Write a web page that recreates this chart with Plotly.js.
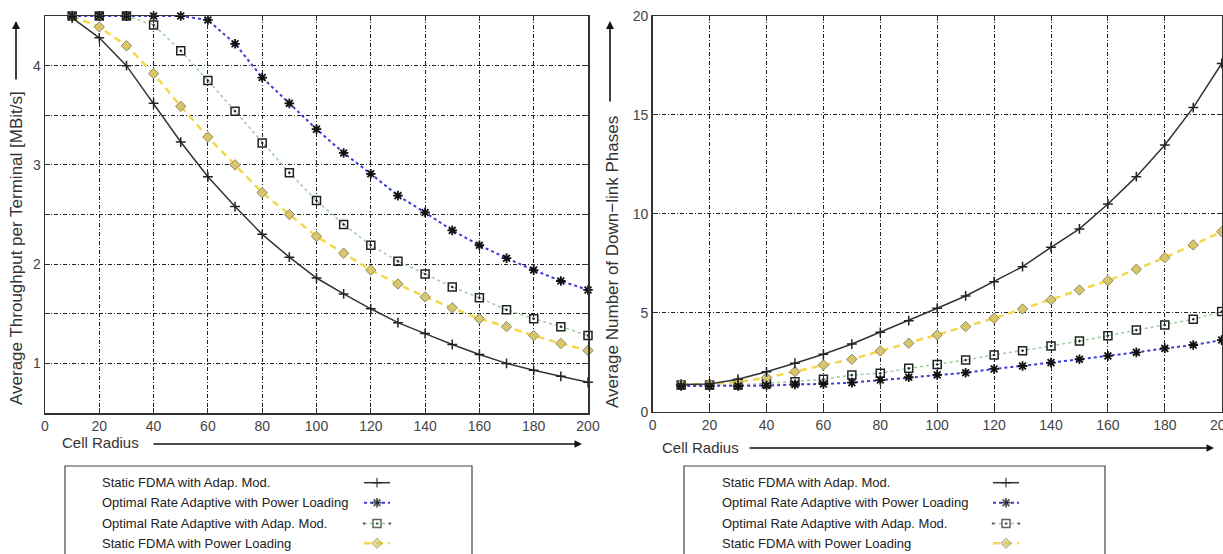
<!DOCTYPE html>
<html><head><meta charset="utf-8">
<script src="https://cdn.plot.ly/plotly-3.0.1.min.js"></script>
<style>html,body{margin:0;padding:0;background:#fff}#plot{width:1223px;height:554px}</style>
</head><body><div id="plot"></div>
<script>
// ---- data ----
const radius = [10,20,30,40,50,60,70,80,90,100,110,120,130,140,150,160,170,180,190,200];
const seriesNames = ["Static FDMA with Adap. Mod.", "Optimal Rate Adaptive with Power Loading", "Optimal Rate Adaptive with Adap. Mod.", "Static FDMA with Power Loading"];
// left: average throughput per terminal [MBit/s]
const tpStaticAdap  = [4.48,4.28,4.00,3.62,3.23,2.88,2.58,2.30,2.07,1.86,1.70,1.55,1.41,1.30,1.19,1.09,1.00,0.93,0.87,0.81];
const tpOptPower    = [4.50,4.50,4.50,4.50,4.50,4.46,4.22,3.88,3.62,3.36,3.12,2.91,2.69,2.52,2.34,2.19,2.06,1.94,1.83,1.74];
const tpOptAdap     = [4.50,4.50,4.50,4.41,4.15,3.85,3.54,3.22,2.92,2.64,2.40,2.19,2.03,1.90,1.77,1.66,1.54,1.45,1.37,1.28];
const tpStaticPower = [4.50,4.39,4.20,3.92,3.59,3.28,3.00,2.72,2.50,2.28,2.11,1.94,1.80,1.67,1.56,1.45,1.37,1.28,1.20,1.13];
// right: average number of down-link phases
const phStaticAdap  = [1.38,1.40,1.64,2.02,2.45,2.90,3.42,4.01,4.60,5.23,5.85,6.57,7.33,8.31,9.24,10.5,11.88,13.48,15.37,17.6];
const phOptPower    = [1.30,1.30,1.30,1.32,1.38,1.40,1.47,1.60,1.74,1.86,1.97,2.16,2.31,2.48,2.65,2.82,3.00,3.20,3.37,3.62];
const phOptAdap     = [1.35,1.35,1.35,1.43,1.52,1.64,1.85,1.94,2.19,2.39,2.61,2.87,3.08,3.32,3.57,3.84,4.13,4.38,4.67,5.06];
const phStaticPower = [1.38,1.40,1.50,1.72,2.02,2.36,2.65,3.07,3.46,3.88,4.30,4.72,5.19,5.65,6.15,6.62,7.20,7.79,8.43,9.10];
const xTicks = [0,20,40,60,80,100,120,140,160,180,200];
const leftYTicks = [0.5,1,1.5,2,2.5,3,3.5,4,4.5];
const leftYLabels = ["","1","","2","","3","","4",""];
const rightYTicks = [0,5,10,15,20];

// ---- styles ----
const W = 1223, H = 554;
const px = v => v / W, py = v => 1 - v / H;
const styles = [
  {line:{color:'#333333', width:1.5, dash:'solid'}, marker:{symbol:'cross-thin-open', size:7, color:'#222', line:{width:1.5, color:'#222'}}},
  {line:{color:'#3c3cd8', width:2, dash:'3px,3px'}, marker:{symbol:'asterisk-open', size:8, color:'#111', line:{width:1.8, color:'#111'}}},
  {line:{color:'#9ccc9c', width:1.5, dash:'dot'}, marker:{symbol:'square-open-dot', size:8, color:'#222', line:{width:1.5, color:'#222'}}},
  {line:{color:'#f2d84a', width:2.5, dash:'7px,5px'}, marker:{symbol:'diamond', size:8, color:'#d9c56a', line:{width:1, color:'#8a8a6a'}}}
];
const leftData = [tpStaticAdap, tpOptPower, tpOptAdap, tpStaticPower];
const rightData = [phStaticAdap, phOptPower, phOptAdap, phStaticPower];
const drawOrder = [2,3,1,0];
const traces = [];
drawOrder.forEach(i => {
  traces.push({x:radius, y:leftData[i], name:seriesNames[i], type:'scatter', mode:'lines+markers', xaxis:'x', yaxis:'y', line:styles[i].line, marker:styles[i].marker, cliponaxis:false, showlegend:false});
  traces.push({x:radius, y:rightData[i], name:seriesNames[i], type:'scatter', mode:'lines+markers', xaxis:'x2', yaxis:'y2', line:styles[i].line, marker:styles[i].marker, cliponaxis:false, showlegend:false});
});

// ---- custom legends (text left, sample right), on a pixel-coordinate helper axis ----
const legendRowsY = [482.7, 502.7, 523.5, 543.3];
const legends = [{box:[65,472], textX:100, sample:[364,390]}, {box:[684,1105], textX:720, sample:[993,1019]}];
const annotations = [];
const shapes = [];
legends.forEach(lg => {
  shapes.push({type:'rect', xref:'paper', yref:'paper', x0:px(lg.box[0]), x1:px(lg.box[1]), y0:py(560), y1:py(466), line:{color:'#444', width:1.2}});
  seriesNames.forEach((n, i) => {
    annotations.push({xref:'paper', yref:'paper', x:px(lg.textX), y:py(legendRowsY[i]), xanchor:'left', yanchor:'middle', text:n, showarrow:false, font:{size:13, color:'#222'}});
    const a = lg.sample[0], b = lg.sample[1], m = (a + b) / 2;
    traces.push({x:[a,m,b], y:[legendRowsY[i],legendRowsY[i],legendRowsY[i]], xaxis:'x3', yaxis:'y3', type:'scatter', mode:'lines+markers', showlegend:false, hoverinfo:'skip', cliponaxis:false,
      line:styles[i].line, marker:Object.assign({}, styles[i].marker, {size:[0,styles[i].marker.size,0]})});
  });
});

// ---- axis titles with arrows ----
const titleFont = {size:15, color:'#333'};
const yTitleFont = {size:17, color:'#333'};
annotations.push({xref:'paper', yref:'paper', x:px(17), y:py(248), text:'Average Throughput per Terminal [MBit/s]', textangle:-90, showarrow:false, font:yTitleFont, xanchor:'center', yanchor:'middle'});
annotations.push({xref:'paper', yref:'paper', x:px(16), y:py(21), ax:0, ay:60, text:'', showarrow:true, arrowhead:2, arrowsize:1, arrowwidth:1.6, arrowcolor:'#111'});
annotations.push({xref:'paper', yref:'paper', x:px(100), y:py(442), text:'Cell Radius', showarrow:false, font:titleFont, xanchor:'center', yanchor:'middle'});
annotations.push({xref:'paper', yref:'paper', x:px(582), y:py(444), ax:-430, ay:0, text:'', showarrow:true, arrowhead:2, arrowsize:1, arrowwidth:1.5, arrowcolor:'#111'});

annotations.push({xref:'paper', yref:'paper', x:px(612), y:py(262), text:'Average Number of Down\u2212link Phases', textangle:-90, showarrow:false, font:yTitleFont, xanchor:'center', yanchor:'middle'});
annotations.push({xref:'paper', yref:'paper', x:px(610), y:py(21), ax:0, ay:82, text:'', showarrow:true, arrowhead:2, arrowsize:1, arrowwidth:1.6, arrowcolor:'#111'});
annotations.push({xref:'paper', yref:'paper', x:px(700), y:py(447), text:'Cell Radius', showarrow:false, font:titleFont, xanchor:'center', yanchor:'middle'});
annotations.push({xref:'paper', yref:'paper', x:px(1214), y:py(448), ax:-466, ay:0, text:'', showarrow:true, arrowhead:2, arrowsize:1, arrowwidth:1.5, arrowcolor:'#111'});

// ---- axes ----
const gridDash = '4px,2px,1px,2px';
const common = {showline:true, linecolor:'#333', linewidth:1.5, mirror:'ticks', ticks:'inside', ticklen:5, tickcolor:'#333',
  showgrid:true, gridcolor:'#222', gridwidth:1, griddash:gridDash, zeroline:false, tickfont:{size:14, color:'#444'}, fixedrange:true, ticklabeloverflow:'allow'};
const layout = {
  width:W, height:H, margin:{l:0, r:0, t:0, b:0}, paper_bgcolor:'#fff', plot_bgcolor:'rgba(0,0,0,0)',
  font:{family:'Liberation Sans, Arial, sans-serif', color:'#333'},
  showlegend:false,
  xaxis:Object.assign({}, common, {domain:[px(45), px(588)], range:[0,200], tickvals:xTicks, anchor:'y'}),
  yaxis:Object.assign({}, common, {domain:[py(413), py(16)], range:[0.5,4.5], tickvals:leftYTicks, ticktext:leftYLabels, anchor:'x'}),
  xaxis2:Object.assign({}, common, {domain:[px(652.7), px(1221.7)], range:[0,200], tickvals:xTicks, anchor:'y2'}),
  yaxis2:Object.assign({}, common, {domain:[py(411.7), py(16)], range:[0,20], tickvals:rightYTicks, anchor:'x2'}),
  xaxis3:{domain:[0,1], range:[0,W], visible:false, fixedrange:true, anchor:'y3'},
  yaxis3:{domain:[0,1], range:[H,0], visible:false, fixedrange:true, anchor:'x3'},
  annotations:annotations, shapes:shapes
};
Plotly.newPlot('plot', traces, layout, {staticPlot:true, displayModeBar:false});
</script></body></html>
